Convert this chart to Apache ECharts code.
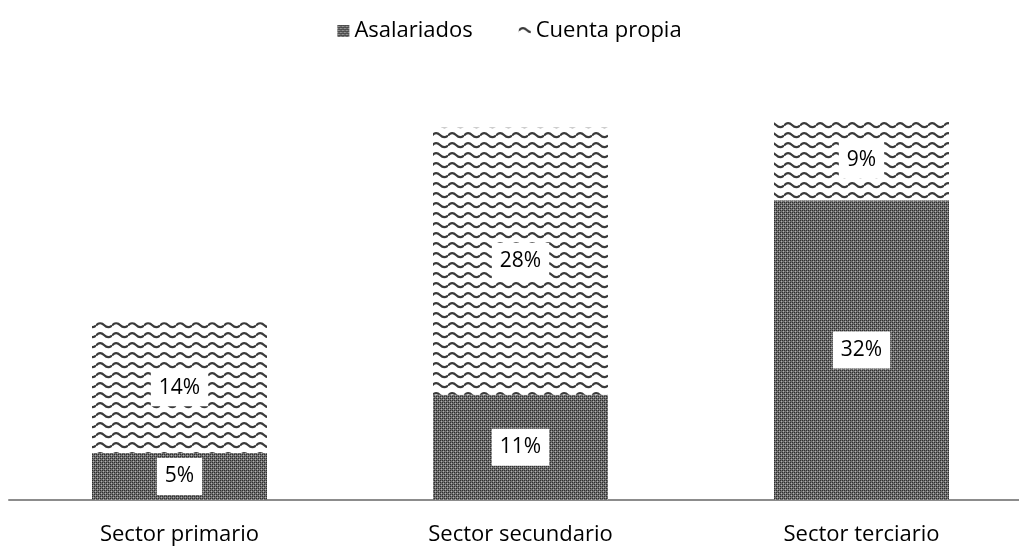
<!DOCTYPE html>
<html>
<head>
<meta charset="utf-8">
<script src="https://cdn.jsdelivr.net/npm/echarts@6/dist/echarts.min.js"></script>
<style>
  html, body { margin: 0; padding: 0; background: #fff; }
  #chart { width: 1019px; height: 547px; }
</style>
</head>
<body>
<div id="chart"></div>
<script>
const categories = ['Sector primario', 'Sector secundario', 'Sector terciario']
const asalariados = [5.0, 11.2, 31.9]
const cuentaPropia = [13.9, 28.4, 8.6]

// dotted dark fill for asalariados
const makeDots = () => {
  const c = document.createElement('canvas')
  c.width = 4
  c.height = 4
  const ctx = c.getContext('2d')
  ctx.fillStyle = '#6e6e6e'
  ctx.fillRect(0, 0, 4, 4)
  ctx.fillStyle = '#2e2e2e'
  ctx.fillRect(0, 0, 1, 1)
  ctx.fillRect(2, 2, 1, 1)
  ctx.fillRect(2, 0, 1, 1)
  ctx.fillRect(0, 2, 1, 1)
  ctx.fillStyle = '#b0b0b0'
  ctx.fillRect(1, 1, 1, 1)
  ctx.fillRect(3, 3, 1, 1)
  return c
}

// wavy lines for cuenta propia
const makeWaves = () => {
  const c = document.createElement('canvas')
  c.width = 16
  c.height = 10
  const ctx = c.getContext('2d')
  ctx.fillStyle = '#fff'
  ctx.fillRect(0, 0, 16, 10)
  ctx.strokeStyle = '#3a3a3a'
  ctx.lineWidth = 2.2
  ctx.beginPath()
  ctx.moveTo(0, 5.5)
  ctx.quadraticCurveTo(4, 1, 8, 5)
  ctx.quadraticCurveTo(12, 9, 16, 5.5)
  ctx.stroke()
  return c
}

const dotFill = { image: makeDots(), repeat: 'repeat' }
const waveFill = { image: makeWaves(), repeat: 'repeat' }

const labelStyle = {
  show: true,
  position: 'inside',
  backgroundColor: '#fff',
  color: '#000',
  fontFamily: 'Open Sans',
  fontSize: 21,
  padding: [8, 8],
  formatter: (p) => Math.round(p.value) + '%'
}

const option = {
  animation: false,
  legend: {
    top: 15,
    left: 'center',
    itemWidth: 12,
    itemHeight: 12,
    itemGap: 46,
    icon: 'rect',
    textStyle: { fontFamily: 'Open Sans', fontSize: 22, color: '#000' },
    data: ['Asalariados', 'Cuenta propia']
  },
  grid: {
    left: 9,
    width: 1023,
    top: 30,
    bottom: 47,
    containLabel: false,
    outerBoundsMode: 'none'
  },
  xAxis: {
    type: 'category',
    data: categories,
    axisTick: { show: false },
    axisLine: { lineStyle: { color: '#8c8c8c', width: 2 } },
    axisLabel: {
      color: '#000',
      fontFamily: 'Open Sans',
      fontSize: 22,
      margin: 24
    }
  },
  yAxis: {
    type: 'value',
    min: 0,
    max: 50,
    show: false,
    splitLine: { show: false }
  },
  series: [
    {
      name: 'Asalariados',
      type: 'bar',
      stack: 'total',
      barWidth: 175,
      itemStyle: { color: dotFill },
      label: labelStyle,
      data: asalariados
    },
    {
      name: 'Cuenta propia',
      type: 'bar',
      stack: 'total',
      barWidth: 175,
      itemStyle: { color: waveFill },
      label: labelStyle,
      data: cuentaPropia
    }
  ]
}

const chart = echarts.init(document.getElementById('chart'))
chart.setOption(option)
</script>
</body>
</html>
